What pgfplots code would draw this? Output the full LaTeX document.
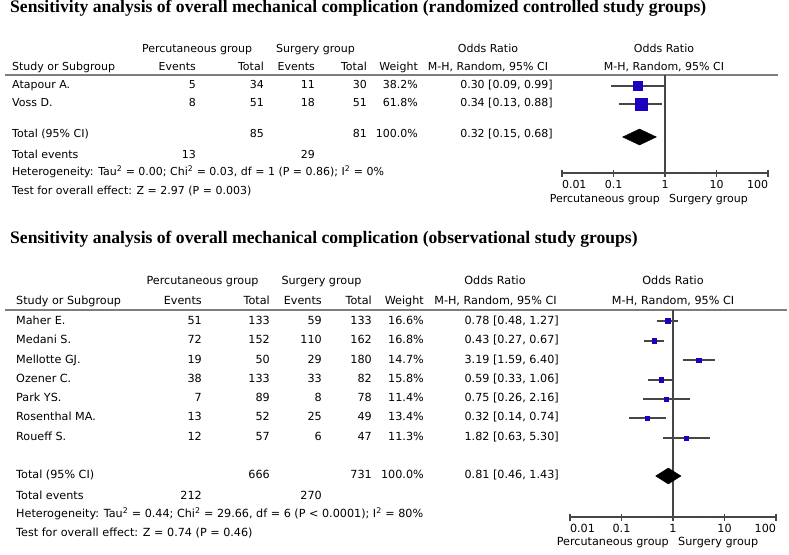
\documentclass[border=0pt]{standalone}
\usepackage{pgfplots}
\pgfplotsset{compat=1.18}
\usepackage{fontspec}
\setmainfont{DejaVu Sans}
\newfontfamily\titlefont{Liberation Serif}
\definecolor{boxblue}{RGB}{28,0,192}
\definecolor{ciline}{RGB}{70,70,70}
\definecolor{rulegray}{RGB}{125,125,125}
\begin{document}
\begin{tikzpicture}[x=1pt,y=1pt,
  txt/.style={font=\fontsize{11}{13}\selectfont, inner sep=0pt},
  txtb/.style={font=\fontsize{11.2}{13}\selectfont, inner sep=0pt},
  ttl/.style={font=\titlefont\bfseries\fontsize{17.6}{20}\selectfont, inner sep=0pt, anchor=base west}]
\useasboundingbox (0,0) rectangle (789,-554);

% ================= TOP PANEL =================
\node[ttl] at (10,-12.5) {Sensitivity analysis of overall mechanical complication (randomized controlled study groups)};
\begin{scope}[every node/.style={txt}]
\node[anchor=mid] at (197,-50) {Percutaneous group};
\node[anchor=mid] at (315.5,-50) {Surgery group};
\node[anchor=mid] at (488,-50) {Odds Ratio};
\node[anchor=mid] at (664,-50) {Odds Ratio};
\node[anchor=mid west] at (12,-68) {Study or Subgroup};
\node[anchor=mid east] at (196,-68) {Events};
\node[anchor=mid east] at (264,-68) {Total};
\node[anchor=mid east] at (315,-68) {Events};
\node[anchor=mid east] at (367,-68) {Total};
\node[anchor=mid east] at (418,-68) {Weight};
\node[anchor=mid] at (488,-68) {M-H, Random, 95\% CI};
\node[anchor=mid] at (664,-68) {M-H, Random, 95\% CI};
% rows
\node[anchor=mid west] at (12,-86) {Atapour A.};
\node[anchor=mid east] at (196,-86) {5};
\node[anchor=mid east] at (264,-86) {34};
\node[anchor=mid east] at (315,-86) {11};
\node[anchor=mid east] at (367,-86) {30};
\node[anchor=mid east] at (418,-86) {38.2\%};
\node[anchor=mid east] at (553,-86) {0.30 [0.09, 0.99]};
\node[anchor=mid west] at (12,-104) {Voss D.};
\node[anchor=mid east] at (196,-104) {8};
\node[anchor=mid east] at (264,-104) {51};
\node[anchor=mid east] at (315,-104) {18};
\node[anchor=mid east] at (367,-104) {51};
\node[anchor=mid east] at (418,-104) {61.8\%};
\node[anchor=mid east] at (553,-104) {0.34 [0.13, 0.88]};
\node[anchor=mid west] at (12,-135) {Total (95\% CI)};
\node[anchor=mid east] at (264,-135) {85};
\node[anchor=mid east] at (367,-135) {81};
\node[anchor=mid east] at (418,-135) {100.0\%};
\node[anchor=mid east] at (553,-135) {0.32 [0.15, 0.68]};
\node[anchor=mid west] at (12,-156) {Total events};
\node[anchor=mid east] at (196,-156) {13};
\node[anchor=mid east] at (315,-156) {29};
\node[anchor=mid west] at (12,-173) {Heterogeneity: Tau\textsuperscript{2} = 0.00; Chi\textsuperscript{2} = 0.03, df = 1 (P = 0.86); I\textsuperscript{2} = 0\%};
\node[anchor=mid west] at (12,-192) {Test for overall effect: Z = 2.97 (P = 0.003)};
\node[anchor=mid east] at (660,-200) {Percutaneous group};
\node[anchor=mid west] at (669,-200) {Surgery group};
\end{scope}
\draw[rulegray, line width=1.6pt] (5,-75) -- (778,-75);

\begin{axis}[at={(562pt,-173pt)}, anchor=south west,
  scale only axis, xmode=log, xmin=0.01, xmax=100,
  width=206pt, height=98pt, ymin=-173, ymax=-75,
  axis x line*=bottom, axis y line=none,
  x axis line style={-, draw=ciline, line width=1.2pt},
  xtick={0.01,0.1,1,10,100}, minor xtick={},
  xticklabels={\makebox[0pt][l]{0.01},0.1,1,10,\makebox[0pt][r]{100}},
  xtick align=center, major tick length=7pt,
  every tick/.style={draw=ciline, line width=1.2pt},
  xticklabel style={font=\fontsize{11}{13}\selectfont, inner sep=0pt, anchor=mid, yshift=-9.5pt},
  clip=false]
\addplot[ciline, line width=1.2pt] coordinates {(1,-75) (1,-173)};
\addplot[ciline, line width=1.2pt] coordinates {(0.09,-86) (0.99,-86)};
\addplot[ciline, line width=1.2pt] coordinates {(0.13,-104) (0.88,-104)};
\addplot[only marks, mark=square*, mark size=4.6pt, mark options={draw=boxblue, fill=boxblue}] coordinates {(0.30,-86)};
\addplot[only marks, mark=square*, mark size=6pt, mark options={draw=boxblue, fill=boxblue}] coordinates {(0.34,-104)};
\addplot[fill=black, draw=black] coordinates {(0.15,-137) (0.32,-129) (0.68,-137) (0.32,-145)} -- cycle;
\end{axis}

% ================= BOTTOM PANEL =================
\node[ttl] at (10,-243) {Sensitivity analysis of overall mechanical complication (observational study groups)};
\begin{scope}[every node/.style={txtb}]
\node[anchor=mid] at (202.5,-282) {Percutaneous group};
\node[anchor=mid] at (321.5,-282) {Surgery group};
\node[anchor=mid] at (495,-282) {Odds Ratio};
\node[anchor=mid] at (673,-282) {Odds Ratio};
\node[anchor=mid west] at (16,-302) {Study or Subgroup};
\node[anchor=mid east] at (202,-302) {Events};
\node[anchor=mid east] at (270,-302) {Total};
\node[anchor=mid east] at (322,-302) {Events};
\node[anchor=mid east] at (372,-302) {Total};
\node[anchor=mid east] at (424,-302) {Weight};
\node[anchor=mid] at (495.5,-302) {M-H, Random, 95\% CI};
\node[anchor=mid] at (673,-302) {M-H, Random, 95\% CI};
% rows
\foreach \y/\nm/\ea/\ta/\eb/\tb/\w/\ci in {
  322/Maher E./51/133/59/133/16.6/{0.78 [0.48, 1.27]},
  341/Medani S./72/152/110/162/16.8/{0.43 [0.27, 0.67]},
  361/Mellotte GJ./19/50/29/180/14.7/{3.19 [1.59, 6.40]},
  380/Ozener C./38/133/33/82/15.8/{0.59 [0.33, 1.06]},
  399/Park YS./7/89/8/78/11.4/{0.75 [0.26, 2.16]},
  418/Rosenthal MA./13/52/25/49/13.4/{0.32 [0.14, 0.74]},
  438/Roueff S./12/57/6/47/11.3/{1.82 [0.63, 5.30]}}{
  \node[anchor=mid west] at (16,-\y) {\nm};
  \node[anchor=mid east] at (202,-\y) {\ea};
  \node[anchor=mid east] at (270,-\y) {\ta};
  \node[anchor=mid east] at (322,-\y) {\eb};
  \node[anchor=mid east] at (372,-\y) {\tb};
  \node[anchor=mid east] at (424,-\y) {\w\%};
  \node[anchor=mid east] at (559,-\y) {\ci};
}
\node[anchor=mid west] at (16,-476) {Total (95\% CI)};
\node[anchor=mid east] at (270,-476) {666};
\node[anchor=mid east] at (372,-476) {731};
\node[anchor=mid east] at (424,-476) {100.0\%};
\node[anchor=mid east] at (559,-476) {0.81 [0.46, 1.43]};
\node[anchor=mid west] at (16,-497) {Total events};
\node[anchor=mid east] at (202,-497) {212};
\node[anchor=mid east] at (322,-497) {270};
\node[anchor=mid west] at (16,-515) {Heterogeneity: Tau\textsuperscript{2} = 0.44; Chi\textsuperscript{2} = 29.66, df = 6 (P < 0.0001); I\textsuperscript{2} = 80\%};
\node[anchor=mid west] at (16,-534) {Test for overall effect: Z = 0.74 (P = 0.46)};
\node[anchor=mid east] at (669,-543) {Percutaneous group};
\node[anchor=mid west] at (678,-543) {Surgery group};
\end{scope}
\draw[rulegray, line width=1.6pt] (5,-310) -- (787,-310);

\begin{axis}[at={(570pt,-517pt)}, anchor=south west,
  scale only axis, xmode=log, xmin=0.01, xmax=100,
  width=206pt, height=207pt, ymin=-517, ymax=-310,
  axis x line*=bottom, axis y line=none,
  x axis line style={-, draw=ciline, line width=1.2pt},
  xtick={0.01,0.1,1,10,100}, minor xtick={},
  xticklabels={\makebox[0pt][l]{0.01},0.1,1,10,\makebox[0pt][r]{100}},
  xtick align=center, major tick length=7pt,
  every tick/.style={draw=ciline, line width=1.2pt},
  xticklabel style={font=\fontsize{11.2}{13}\selectfont, inner sep=0pt, anchor=mid, yshift=-9pt},
  clip=false]
\addplot[ciline, line width=1.2pt] coordinates {(1,-310) (1,-517)};
\addplot[ciline, line width=1.2pt] coordinates {(0.48,-321) (1.27,-321)};
\addplot[ciline, line width=1.2pt] coordinates {(0.27,-341) (0.67,-341)};
\addplot[ciline, line width=1.2pt] coordinates {(1.59,-360) (6.40,-360)};
\addplot[ciline, line width=1.2pt] coordinates {(0.33,-380) (1.06,-380)};
\addplot[ciline, line width=1.2pt] coordinates {(0.26,-399) (2.16,-399)};
\addplot[ciline, line width=1.2pt] coordinates {(0.14,-418) (0.74,-418)};
\addplot[ciline, line width=1.2pt] coordinates {(0.63,-438) (5.30,-438)};
\addplot[only marks, mark=square*, mark size=2.4pt, mark options={draw=boxblue, fill=boxblue}] coordinates {(0.78,-321)};
\addplot[only marks, mark=square*, mark size=2.4pt, mark options={draw=boxblue, fill=boxblue}] coordinates {(0.43,-341)};
\addplot[only marks, mark=square*, mark size=2.3pt, mark options={draw=boxblue, fill=boxblue}] coordinates {(3.19,-360)};
\addplot[only marks, mark=square*, mark size=2.35pt, mark options={draw=boxblue, fill=boxblue}] coordinates {(0.59,-380)};
\addplot[only marks, mark=square*, mark size=2.0pt, mark options={draw=boxblue, fill=boxblue}] coordinates {(0.75,-399)};
\addplot[only marks, mark=square*, mark size=2.15pt, mark options={draw=boxblue, fill=boxblue}] coordinates {(0.32,-418)};
\addplot[only marks, mark=square*, mark size=2.0pt, mark options={draw=boxblue, fill=boxblue}] coordinates {(1.82,-438)};
\addplot[fill=black, draw=black] coordinates {(0.46,-476) (0.81,-468) (1.43,-476) (0.81,-484)} -- cycle;
\end{axis}
\end{tikzpicture}
\end{document}
